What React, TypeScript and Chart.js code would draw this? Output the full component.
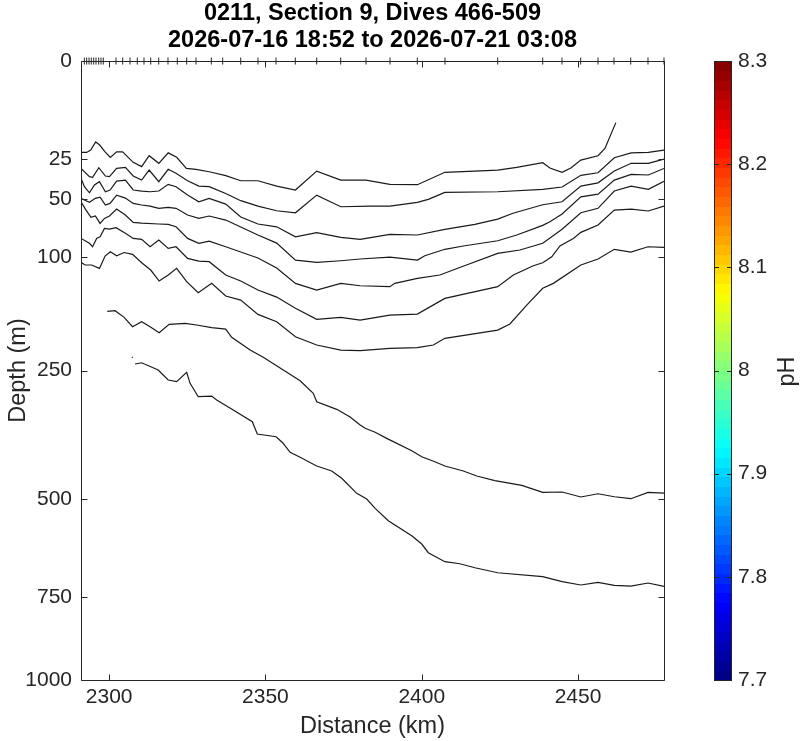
import React, { useEffect, useRef } from "react";
import { Chart, registerables, LinearScale } from "chart.js";

// ---------- text ----------
const TITLE_LINES = ["0211, Section 9, Dives 466-509", "2026-07-16 18:52 to 2026-07-21 03:08"];
const X_LABEL = "Distance (km)";
const Y_LABEL = "Depth (m)";
const CB_LABEL = "pH";

// ---------- axes ----------
const X_MIN = 2291;
const X_MAX = 2477.5;
const X_TICKS = [2300, 2350, 2400, 2450];
const DEPTH_MIN = 0;
const DEPTH_MAX = 1000;
const DEPTH_TICKS = [0, 25, 50, 100, 250, 500, 750, 1000];
const PH_MIN = 7.7;
const PH_MAX = 8.3;
const PH_TICKS = [7.7, 7.8, 7.9, 8.0, 8.1, 8.2, 8.3];
const CB_LEVELS = 64;

// ---------- dive positions (km) ----------
const DIVE_KM = [
  2292.06, 2292.82, 2293.56, 2294.29, 2295.06, 2295.8, 2296.66, 2297.4, 2298.13, 2302.2,
  2304.34, 2306.68, 2309.01, 2311.15, 2313.3, 2315.86, 2318.83, 2321.81, 2324.81, 2327.79,
  2332.68, 2336.33, 2342.09, 2347.62, 2353.38, 2359.55, 2366.4, 2374.08, 2382.17, 2389.85,
  2398.58, 2407.44, 2424.3, 2438.7, 2444.87, 2450.85, 2456.39, 2461.5, 2466.85, 2472.38, 2477.5,
];

// ---------- contour lines: [distance km, depth m] ----------
const contour1: [number, number][] = [
  [2291.0, 21.8], [2292.8, 21.8], [2294.1, 20.7], [2295.7, 17.1], [2296.9, 18.3], [2298.7, 21.5],
  [2300.4, 24.2], [2302.4, 21.5], [2304.3, 21.5], [2307.7, 26.8], [2310.4, 29.1], [2312.8, 23.4],
  [2315.9, 27.3], [2318.9, 22.0], [2321.6, 24.2], [2324.7, 30.1], [2327.8, 30.6], [2332.0, 32.0],
  [2337.3, 34.3], [2342.1, 37.4], [2347.6, 37.4], [2353.6, 40.8], [2359.6, 43.4], [2366.4, 31.6],
  [2374.1, 37.0], [2382.2, 37.0], [2389.8, 39.7], [2398.6, 39.9], [2407.4, 32.3], [2424.3, 31.0],
  [2430.4, 29.5], [2438.7, 27.0], [2441.0, 29.9], [2444.9, 32.3], [2447.7, 29.9], [2450.9, 25.6],
  [2456.4, 23.4], [2458.6, 19.9], [2462.1, 9.9],
];
const contour2: [number, number][] = [
  [2291.0, 30.1], [2293.7, 34.9], [2294.7, 35.3], [2296.7, 29.7], [2298.8, 34.5], [2300.1, 34.9],
  [2302.4, 30.1], [2305.2, 29.5], [2307.7, 34.5], [2310.4, 37.0], [2312.8, 31.0], [2315.9, 38.0],
  [2318.9, 30.6], [2321.4, 32.9], [2325.1, 37.4], [2328.7, 40.8], [2332.0, 41.2], [2337.3, 45.8],
  [2342.1, 50.9], [2347.6, 54.9], [2353.6, 58.5], [2359.6, 60.1], [2366.4, 46.9], [2374.1, 55.4],
  [2383.4, 54.9], [2389.8, 54.9], [2398.6, 52.1], [2402.1, 49.9], [2407.4, 45.0], [2424.3, 44.6],
  [2438.7, 43.0], [2444.9, 41.4], [2450.9, 34.1], [2456.4, 32.6], [2461.6, 24.4], [2467.0, 22.0],
  [2472.5, 21.8], [2477.5, 20.7],
];
const contour3: [number, number][] = [
  [2291.0, 35.9], [2292.1, 41.2], [2293.7, 45.3], [2295.3, 40.1], [2296.9, 38.0], [2298.8, 44.6],
  [2300.3, 43.4], [2302.4, 37.6], [2305.2, 37.0], [2307.7, 43.4], [2310.4, 44.1], [2313.1, 44.6],
  [2315.9, 44.1], [2318.9, 39.7], [2321.4, 41.2], [2325.1, 46.9], [2328.7, 51.7], [2332.0, 49.2],
  [2337.3, 53.4], [2342.1, 63.5], [2347.6, 69.3], [2353.6, 71.7], [2359.6, 80.6], [2366.4, 76.9],
  [2374.1, 81.1], [2380.3, 83.0], [2389.8, 78.4], [2398.6, 79.0], [2407.4, 73.9], [2417.0, 69.6],
  [2424.3, 65.2], [2429.2, 60.5], [2438.7, 53.9], [2444.9, 51.7], [2450.9, 40.8], [2456.4, 38.7],
  [2461.6, 31.6], [2467.0, 27.3], [2472.5, 27.3], [2477.5, 25.1],
];
const contour4: [number, number][] = [
  [2291.0, 49.2], [2292.6, 50.9], [2293.7, 52.1], [2295.6, 49.2], [2297.1, 48.3], [2298.8, 54.1],
  [2300.3, 52.9], [2302.4, 46.9], [2305.2, 49.0], [2307.7, 52.9], [2310.4, 54.1], [2313.1, 54.9],
  [2315.9, 56.6], [2318.9, 55.9], [2321.4, 56.6], [2325.1, 61.9], [2328.7, 64.6], [2332.0, 62.7],
  [2337.3, 66.0], [2342.1, 71.9], [2347.6, 79.0], [2353.6, 86.5], [2359.6, 103.4], [2366.4, 105.8],
  [2374.1, 104.1], [2380.3, 102.3], [2389.8, 100.3], [2398.6, 103.4], [2401.0, 98.9], [2407.4, 92.5],
  [2413.3, 89.3], [2424.3, 84.3], [2430.4, 79.0], [2438.7, 70.5], [2441.0, 67.4], [2444.9, 61.1],
  [2450.9, 48.1], [2456.4, 46.2], [2461.6, 37.0], [2467.0, 33.5], [2472.5, 33.9], [2477.5, 30.1],
];
const contour5: [number, number][] = [
  [2291.0, 51.7], [2292.6, 58.0], [2294.2, 63.8], [2295.6, 62.7], [2297.1, 68.8], [2298.5, 64.6],
  [2300.1, 62.7], [2302.4, 57.2], [2305.2, 61.9], [2307.7, 67.9], [2310.4, 68.5], [2315.9, 69.3],
  [2318.9, 69.6], [2321.4, 71.7], [2325.1, 82.1], [2328.7, 86.7], [2332.0, 84.6], [2337.3, 90.0],
  [2342.1, 95.2], [2347.6, 101.3], [2353.6, 111.8], [2359.6, 129.0], [2366.4, 136.9], [2374.1, 129.0],
  [2380.3, 131.8], [2389.8, 132.9], [2391.4, 129.0], [2398.6, 123.2], [2405.8, 119.5], [2412.8, 110.4],
  [2424.3, 96.5], [2431.4, 93.2], [2438.7, 86.7], [2444.9, 73.9], [2450.9, 60.1], [2456.4, 56.6],
  [2461.6, 44.1], [2467.0, 40.8], [2472.5, 43.0], [2477.5, 37.8],
];
const contour6: [number, number][] = [
  [2291.0, 82.1], [2293.7, 86.7], [2294.7, 90.0], [2296.0, 82.1], [2297.1, 80.6], [2298.5, 73.1],
  [2300.1, 73.7], [2302.2, 72.5], [2305.2, 77.5], [2307.7, 82.1], [2310.4, 83.0], [2313.1, 90.0],
  [2315.9, 83.6], [2318.9, 91.6], [2321.4, 90.0], [2325.1, 101.6], [2328.7, 104.4], [2332.0, 105.1],
  [2337.3, 119.5], [2342.1, 126.3], [2347.6, 136.9], [2353.6, 145.4], [2359.6, 159.6], [2366.4, 174.1],
  [2374.1, 171.5], [2380.3, 175.1], [2389.8, 168.4], [2398.6, 167.1], [2407.4, 147.0], [2424.3, 132.9],
  [2429.3, 119.5], [2435.7, 109.4], [2438.7, 106.2], [2441.6, 100.0], [2444.2, 89.3], [2448.5, 82.1],
  [2450.9, 76.6], [2456.4, 70.2], [2461.6, 58.0], [2467.0, 57.2], [2472.5, 58.7], [2477.5, 54.9],
];
const contour7: [number, number][] = [
  [2291.0, 105.8], [2292.3, 108.6], [2294.4, 108.6], [2296.9, 112.2], [2298.7, 99.3], [2300.4, 94.9],
  [2302.4, 98.9], [2304.8, 95.7], [2307.5, 97.5], [2310.4, 106.2], [2313.3, 114.0], [2316.0, 126.3],
  [2318.9, 119.5], [2321.6, 112.2], [2324.8, 127.1], [2328.5, 140.1], [2332.8, 129.0], [2337.3, 144.1],
  [2342.1, 149.1], [2347.6, 167.5], [2353.6, 177.4], [2359.6, 198.4], [2366.4, 210.5], [2374.1, 218.0],
  [2380.3, 219.0], [2389.8, 215.4], [2398.6, 214.5], [2403.7, 210.5], [2407.4, 200.7], [2424.3, 188.9],
  [2428.2, 180.5], [2433.6, 155.4], [2438.7, 134.8], [2442.1, 129.0], [2450.9, 108.6], [2456.4, 102.3],
  [2461.6, 92.5], [2466.9, 95.2], [2472.4, 90.0], [2477.5, 90.6],
];
const contour8: [number, number][] = [
  [2299.4, 163.5], [2301.9, 162.7], [2304.8, 171.5], [2307.5, 184.3], [2310.4, 177.4], [2313.1, 184.3],
  [2316.0, 192.7], [2319.2, 180.9], [2324.3, 179.6], [2328.0, 181.9], [2332.8, 185.6], [2337.3, 187.5],
  [2339.2, 199.3], [2345.1, 218.0], [2349.3, 229.1], [2355.7, 249.2], [2361.1, 266.8], [2365.3, 288.2],
  [2366.4, 303.0], [2372.8, 316.6], [2377.1, 330.8], [2380.3, 345.8], [2381.9, 352.1], [2385.1, 359.8],
  [2388.8, 371.6], [2396.8, 396.4], [2400.0, 408.7], [2404.2, 419.1], [2407.4, 428.1], [2413.3, 438.7],
  [2417.6, 449.5], [2423.4, 459.7], [2432.0, 469.9], [2438.7, 485.5], [2444.9, 484.8], [2450.9, 496.1],
  [2456.4, 488.7], [2461.6, 495.5], [2466.9, 500.0], [2472.4, 485.5], [2477.5, 487.1],
];
const contour9: [number, number][] = [
  [2308.3, 239.6], [2310.4, 237.6], [2315.7, 249.2], [2318.9, 265.6], [2321.6, 268.4], [2324.8, 252.9],
  [2325.9, 271.1], [2328.5, 294.1], [2332.8, 292.9], [2334.4, 299.9], [2339.7, 317.9], [2345.8, 339.6],
  [2347.4, 363.1], [2353.4, 368.4], [2355.5, 380.3], [2357.9, 399.6], [2361.1, 409.9], [2366.4, 428.1],
  [2371.2, 438.7], [2374.4, 454.5], [2379.2, 487.8], [2382.4, 500.7], [2385.1, 522.2], [2389.3, 551.5],
  [2396.8, 588.2], [2400.0, 608.9], [2402.1, 631.0], [2407.4, 654.3], [2412.2, 659.6], [2417.0, 670.1],
  [2424.3, 683.4], [2438.7, 694.1], [2444.9, 707.6], [2450.9, 716.6], [2456.4, 709.3], [2461.6, 717.4],
  [2466.9, 719.4], [2472.4, 711.2], [2477.5, 720.2],
];
const contourFragment: [number, number][] = [
  [2307.3, 228.5], [2307.6, 229.6],
];

const CONTOURS = [contour1, contour2, contour3, contour4, contour5, contour6, contour7, contour8, contour9, contourFragment];

// ---------- style ----------
const FONT = "'Liberation Sans', Arial, Helvetica, sans-serif";
const AXIS_COLOR = "#262626";
const LINE_COLOR = "#1a1a1a";
const TICK_LEN = 6;

// ---------- square-root depth scale ----------
class SqrtScale extends LinearScale {
  static id = "sqrt";
  static defaults = {};
  getPixelForValue(value: number) {
    const a = Math.sqrt(Math.max((this as any).min, 0));
    const b = Math.sqrt(Math.max((this as any).max, 0));
    const v = Math.sqrt(Math.max(value, 0));
    return (this as any).getPixelForDecimal((v - a) / (b - a));
  }
  getValueForPixel(pixel: number) {
    const a = Math.sqrt(Math.max((this as any).min, 0));
    const b = Math.sqrt(Math.max((this as any).max, 0));
    const s = a + (this as any).getDecimalForPixel(pixel) * (b - a);
    return s * s;
  }
}

Chart.register(...registerables, SqrtScale as any);

function jet(t: number): string {
  const c = (v: number) => Math.round(255 * Math.min(1, Math.max(0, v)));
  const r = c(1.5 - Math.abs(4 * t - 3));
  const g = c(1.5 - Math.abs(4 * t - 2));
  const b = c(1.5 - Math.abs(4 * t - 1));
  return `rgb(${r},${g},${b})`;
}

const noEdgePadding = (s: any) => {
  s.paddingTop = 0;
  s.paddingBottom = 0;
  s.paddingLeft = 0;
  s.paddingRight = 0;
};

const framePlugin = {
  id: "matlabFrame",
  afterDraw(chart: any) {
    const { ctx, chartArea: a, scales } = chart;
    const xs = scales.x;
    const ys = scales.y;
    const cb = scales.cb;
    const L = Math.round(a.left) + 0.5;
    const R = Math.round(a.right) + 0.5;
    const T = Math.round(a.top) + 0.5;
    const B = Math.round(a.bottom) + 0.5;
    ctx.save();
    ctx.strokeStyle = AXIS_COLOR;
    ctx.lineWidth = 1;
    ctx.beginPath();
    ctx.rect(L, T, R - L, B - T);
    for (const t of xs.ticks) {
      const px = Math.round(xs.getPixelForValue(t.value)) + 0.5;
      ctx.moveTo(px, B);
      ctx.lineTo(px, B - TICK_LEN);
      ctx.moveTo(px, T);
      ctx.lineTo(px, T + TICK_LEN);
    }
    for (const t of ys.ticks) {
      const py = Math.round(ys.getPixelForValue(t.value)) + 0.5;
      ctx.moveTo(L, py);
      ctx.lineTo(L + TICK_LEN, py);
      ctx.moveTo(R, py);
      ctx.lineTo(R - TICK_LEN, py);
    }
    ctx.stroke();

    // colorbar
    const cbL = Math.round(a.right) + 50;
    const cbW = 18;
    const step = (PH_MAX - PH_MIN) / CB_LEVELS;
    for (let i = 0; i < CB_LEVELS; i++) {
      const v0 = PH_MIN + i * step;
      const v1 = v0 + step;
      const y0 = cb.getPixelForValue(v0);
      const y1 = cb.getPixelForValue(v1);
      ctx.fillStyle = jet((i + 0.5) / CB_LEVELS);
      ctx.fillRect(cbL, Math.floor(y1), cbW, Math.ceil(y0) - Math.floor(y1));
    }
    ctx.beginPath();
    ctx.strokeStyle = AXIS_COLOR;
    ctx.lineWidth = 1;
    ctx.rect(cbL + 0.5, T, cbW - 1, B - T);
    for (const t of cb.ticks) {
      const py = Math.round(cb.getPixelForValue(t.value)) + 0.5;
      ctx.moveTo(cbL, py);
      ctx.lineTo(cbL + 5, py);
      ctx.moveTo(cbL + cbW, py);
      ctx.lineTo(cbL + cbW - 5, py);
    }
    ctx.stroke();

    // colorbar label
    ctx.fillStyle = AXIS_COLOR;
    ctx.font = `23.5px ${FONT}`;
    ctx.textAlign = "center";
    ctx.textBaseline = "middle";
    ctx.translate(a.right + 124, (a.top + a.bottom) / 2 + 1);
    ctx.rotate(-Math.PI / 2);
    ctx.fillText(CB_LABEL, 0, 0);
    ctx.restore();
  },
};

export default function App() {
  const ref = useRef<HTMLCanvasElement>(null);

  useEffect(() => {
    const canvas = ref.current;
    if (!canvas) return;
    Chart.defaults.font.family = FONT;

    const contourSets = CONTOURS.map((c) => ({
      type: "line" as const,
      data: c.map(([km, d]) => ({ x: km, y: d })),
      xAxisID: "x",
      yAxisID: "y",
      borderColor: LINE_COLOR,
      borderWidth: 1.2,
      pointRadius: 0,
      tension: 0,
      fill: false,
    }));

    const diveSet = {
      type: "line" as const,
      data: DIVE_KM.map((km) => ({ x: km, y: 0 })),
      xAxisID: "x",
      yAxisID: "y",
      showLine: false,
      pointStyle: "line" as const,
      pointRotation: 90,
      pointRadius: 3.5,
      pointBorderWidth: 1,
      pointBorderColor: AXIS_COLOR,
      pointBackgroundColor: AXIS_COLOR,
      borderColor: AXIS_COLOR,
      clip: false as any,
    };

    const chart = new Chart(canvas, {
      type: "line",
      data: { datasets: [...contourSets, diveSet] as any },
      options: {
        animation: false,
        responsive: false,
        events: [],
        layout: { padding: 0, autoPadding: false },
        plugins: {
          legend: { display: false },
          tooltip: { enabled: false },
          title: {
            display: true,
            fullSize: false,
            text: TITLE_LINES,
            color: "#000",
            font: { size: 23.5, weight: "bold", lineHeight: 1.15, family: FONT },
            padding: { top: 0, bottom: 7 },
          },
        },
        scales: {
          x: {
            type: "linear",
            position: "bottom",
            min: X_MIN,
            max: X_MAX,
            grid: { display: false, drawTicks: false },
            border: { display: false },
            afterBuildTicks: (s: any) => {
              s.ticks = X_TICKS.map((v) => ({ value: v }));
            },
            afterFit: (s: any) => {
              s.height = 61;
              noEdgePadding(s);
            },
            ticks: {
              autoSkip: false,
              maxRotation: 0,
              padding: 5,
              color: AXIS_COLOR,
              font: { size: 21, family: FONT },
              callback: (v: any) => String(v),
            },
            title: {
              display: true,
              text: X_LABEL,
              color: AXIS_COLOR,
              font: { size: 23.5, family: FONT },
              padding: { top: 0, bottom: 0 },
            },
          },
          y: {
            type: "sqrt" as any,
            position: "left",
            reverse: true,
            min: DEPTH_MIN,
            max: DEPTH_MAX,
            grid: { display: false, drawTicks: false },
            border: { display: false },
            afterBuildTicks: (s: any) => {
              s.ticks = DEPTH_TICKS.map((v) => ({ value: v }));
            },
            afterFit: (s: any) => {
              s.width = 81;
              noEdgePadding(s);
            },
            ticks: {
              autoSkip: false,
              padding: 9,
              color: AXIS_COLOR,
              font: { size: 21, family: FONT },
              callback: (v: any) => String(v),
            },
            title: {
              display: true,
              text: Y_LABEL,
              color: AXIS_COLOR,
              font: { size: 23.5, family: FONT },
              padding: { top: 4, bottom: 0 },
            },
          } as any,
          cb: {
            type: "linear",
            position: "right",
            min: PH_MIN,
            max: PH_MAX,
            grid: { display: false, drawTicks: false },
            border: { display: false },
            afterBuildTicks: (s: any) => {
              s.ticks = PH_TICKS.map((v) => ({ value: v }));
            },
            afterFit: (s: any) => {
              s.width = 136;
              noEdgePadding(s);
            },
            ticks: {
              autoSkip: false,
              padding: 74,
              color: AXIS_COLOR,
              font: { size: 21, family: FONT },
              callback: (v: any) => String(Math.round(Number(v) * 10) / 10),
            },
          },
        },
      },
      plugins: [framePlugin],
    });

    return () => chart.destroy();
  }, []);

  return (
    <div style={{ position: "fixed", left: 0, top: 0, width: 800, height: 741, background: "#fff" }}>
      <canvas ref={ref} width={800} height={741} style={{ display: "block", width: 800, height: 741 }} />
    </div>
  );
}
